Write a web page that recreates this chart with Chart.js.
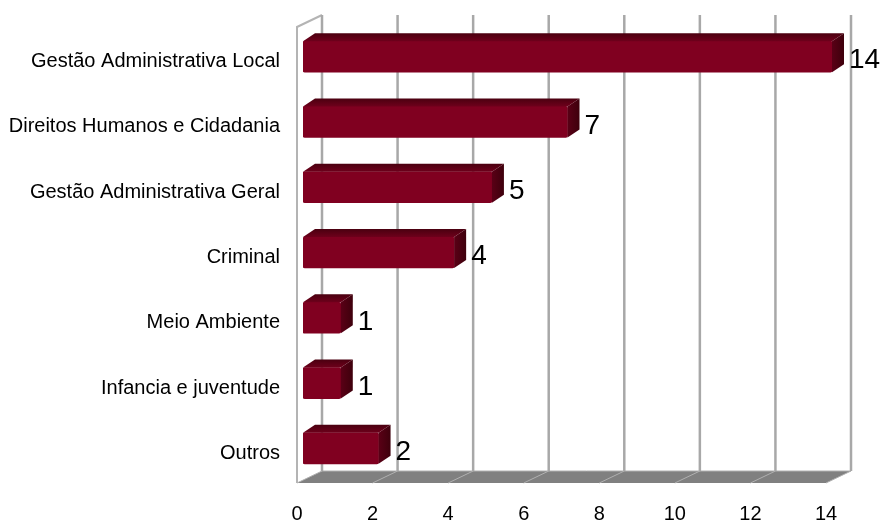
<!DOCTYPE html>
<html>
<head>
<meta charset="utf-8">
<script src="https://cdn.jsdelivr.net/npm/chart.js@4"></script>
<style>
  html, body { margin: 0; padding: 0; background: #fff; }
  #wrap { width: 885px; height: 528px; }
</style>
</head>
<body>
<div id="wrap"><canvas id="myChart" width="885" height="528"></canvas></div>
<script>
// categories and counts
const categories = [
  'Gestão Administrativa Local',
  'Direitos Humanos e Cidadania',
  'Gestão Administrativa Geral',
  'Criminal',
  'Meio Ambiente',
  'Infancia e juventude',
  'Outros',
];
const counts = [14, 7, 5, 4, 1, 1, 2];
const axisMin = 0;
const axisMax = 14;
const axisStep = 2;

// depth of the walls / floor and of the bars
const wallDepth = { dx: 25, dy: -12 };
const barShift = { dx: 6, dy: -5 };
const barDepth = { dx: 12, dy: -8 };

const FONT = "'Liberation Sans', Arial, sans-serif";

// back wall, left wall and floor
const walls = {
  id: 'walls',
  beforeDatasetsDraw(chart) {
    const { ctx, chartArea, scales } = chart;
    const x = scales.x;
    const top = chartArea.top - 2;
    const bottom = chartArea.bottom - 3;
    const left = x.getPixelForValue(axisMin);
    const right = x.getPixelForValue(axisMax);
    const dx = wallDepth.dx, dy = wallDepth.dy;
    ctx.save();

    // floor
    ctx.fillStyle = '#808080';
    ctx.beginPath();
    ctx.moveTo(left, bottom);
    ctx.lineTo(right, bottom);
    ctx.lineTo(right + dx, bottom + dy);
    ctx.lineTo(left + dx, bottom + dy);
    ctx.closePath();
    ctx.fill();

    ctx.strokeStyle = '#b0b0b0';
    ctx.lineWidth = 1;
    for (let v = axisMin; v <= axisMax; v += axisStep) {
      const px = x.getPixelForValue(v);
      ctx.beginPath();
      ctx.moveTo(px, bottom);
      ctx.lineTo(px + dx, bottom + dy);
      ctx.stroke();
    }
    ctx.beginPath();
    ctx.moveTo(left + dx, bottom + dy);
    ctx.lineTo(right + dx, bottom + dy);
    ctx.stroke();

    // left wall
    ctx.strokeStyle = '#b4b4b4';
    ctx.lineWidth = 2;
    ctx.beginPath();
    ctx.moveTo(left, bottom);
    ctx.lineTo(left, top);
    ctx.lineTo(left + dx, top + dy);
    ctx.stroke();

    // back wall gridlines
    ctx.strokeStyle = '#a8a8a8';
    ctx.lineWidth = 2.5;
    for (let v = axisMin; v <= axisMax; v += axisStep) {
      const px = x.getPixelForValue(v) + dx;
      ctx.beginPath();
      ctx.moveTo(px, top + dy);
      ctx.lineTo(px, bottom + dy);
      ctx.stroke();
    }
    ctx.restore();

    // bars sit a little behind the front plane
    ctx.save();
    ctx.translate(barShift.dx, barShift.dy);
  },
  afterDatasetsDraw(chart) {
    const { ctx } = chart;
    const meta = chart.getDatasetMeta(0);
    meta.data.forEach((bar) => {
      const x0 = bar.base, x1 = bar.x;
      const y0 = bar.y - bar.height / 2, y1 = bar.y + bar.height / 2;
      const dx = barDepth.dx, dy = barDepth.dy;

      // top face
      let g = ctx.createLinearGradient(0, y0 + dy, 0, y0);
      g.addColorStop(0, '#4a0010');
      g.addColorStop(1, '#6e001b');
      ctx.fillStyle = g;
      ctx.beginPath();
      ctx.moveTo(x0, y0);
      ctx.lineTo(x1, y0);
      ctx.lineTo(x1 + dx, y0 + dy);
      ctx.lineTo(x0 + dx, y0 + dy);
      ctx.closePath();
      ctx.fill();

      // side face
      g = ctx.createLinearGradient(x1, 0, x1 + dx, 0);
      g.addColorStop(0, '#5a0016');
      g.addColorStop(1, '#3e000c');
      ctx.fillStyle = g;
      ctx.beginPath();
      ctx.moveTo(x1, y0);
      ctx.lineTo(x1 + dx, y0 + dy);
      ctx.lineTo(x1 + dx, y1 + dy);
      ctx.lineTo(x1, y1);
      ctx.closePath();
      ctx.fill();
    });
    ctx.restore();

    // value labels
    ctx.save();
    ctx.fillStyle = '#000';
    ctx.font = '28px ' + FONT;
    ctx.textAlign = 'left';
    ctx.textBaseline = 'middle';
    meta.data.forEach((bar, i) => {
      const lx = bar.x + barShift.dx + barDepth.dx + 5;
      ctx.fillText(String(counts[i]), lx, bar.y - 1);
    });
    ctx.restore();
  },
};

const data = {
  labels: categories,
  datasets: [{
    data: counts,
    backgroundColor: '#800020',
    borderWidth: 0,
    borderRadius: 2,
    borderSkipped: false,
    barThickness: 31,
  }],
};

const config = {
  type: 'bar',
  data: data,
  options: {
    indexAxis: 'y',
    responsive: false,
    animation: false,
    layout: { padding: { left: 0, right: 59, top: 25, bottom: 0 } },
    plugins: {
      legend: { display: false },
      tooltip: { enabled: false },
    },
    scales: {
      x: {
        min: axisMin,
        max: axisMax,
        grid: { display: false, drawTicks: false },
        border: { display: false },
        ticks: {
          stepSize: axisStep,
          padding: 16,
          color: '#000',
          font: { family: FONT, size: 20 },
        },
        afterFit(scale) { scale.height = 42; },
      },
      y: {
        grid: { display: false, drawTicks: false },
        border: { display: false },
        ticks: {
          padding: 17,
          color: '#000',
          font: { family: FONT, size: 20 },
        },
        afterFit(scale) { scale.width = 297; },
      },
    },
  },
  plugins: [walls],
};

var myChart = new Chart(document.getElementById('myChart'), config);
</script>
</body>
</html>
